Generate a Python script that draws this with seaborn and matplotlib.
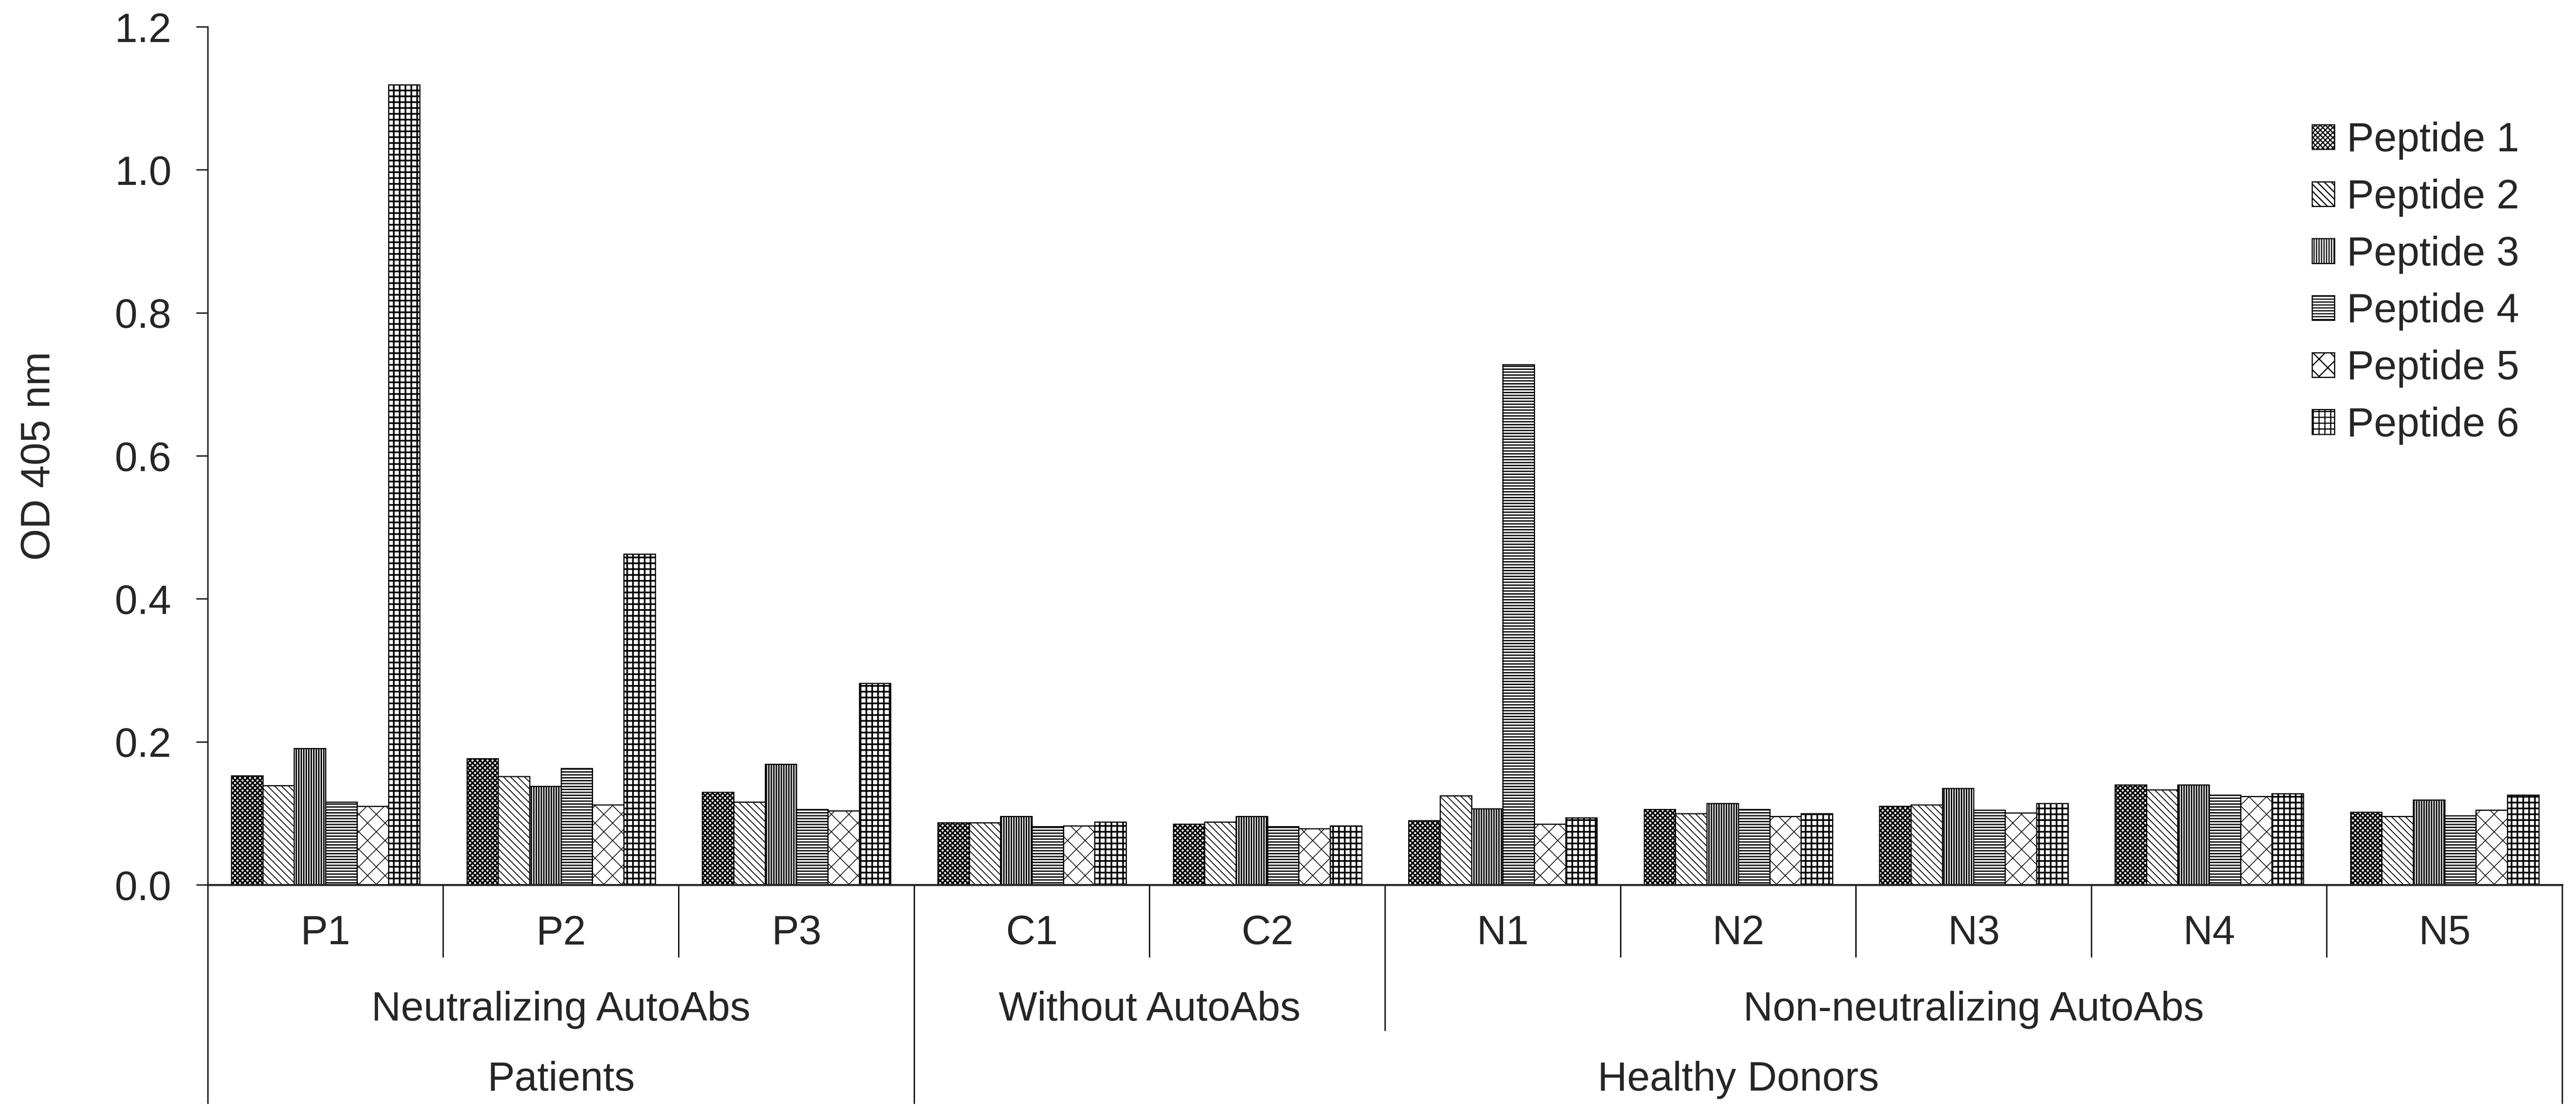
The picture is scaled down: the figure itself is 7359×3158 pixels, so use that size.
import pandas as pd
import matplotlib.pyplot as plt
import matplotlib.patches as mpatches
import seaborn as sns

# data (OD 405 nm)
samples = ["P1", "P2", "P3", "C1", "C2", "N1", "N2", "N3", "N4", "N5"]
peptides = ["Peptide 1", "Peptide 2", "Peptide 3", "Peptide 4", "Peptide 5", "Peptide 6"]
pep1 = [0.153, 0.177, 0.130, 0.087, 0.085, 0.090, 0.106, 0.110, 0.140, 0.102]
pep2 = [0.139, 0.152, 0.116, 0.087, 0.088, 0.125, 0.100, 0.112, 0.133, 0.096]
pep3 = [0.191, 0.138, 0.169, 0.096, 0.096, 0.107, 0.114, 0.135, 0.140, 0.119]
pep4 = [0.116, 0.163, 0.106, 0.082, 0.082, 0.728, 0.106, 0.105, 0.126, 0.097]
pep5 = [0.110, 0.112, 0.104, 0.083, 0.079, 0.085, 0.096, 0.101, 0.124, 0.105]
pep6 = [1.119, 0.463, 0.282, 0.088, 0.083, 0.094, 0.100, 0.114, 0.128, 0.126]

# category groups under the axis
level2 = [("Neutralizing AutoAbs", 3), ("Without AutoAbs", 2), ("Non-neutralizing AutoAbs", 5)]
level3 = [("Patients", 3), ("Healthy Donors", 7)]

# hatch pattern and hatch line width for each peptide
hatches = ["xxxxxxx", "\\\\\\\\\\", "|||||||", "------", "xx", "+++"]
hatch_lw = [1.1, 0.6, 1.0, 0.9, 0.5, 1.15]

rows = []
for name, vals in zip(peptides, [pep1, pep2, pep3, pep4, pep5, pep6]):
    for s, v in zip(samples, vals):
        rows.append({"sample": s, "peptide": name, "od": v})
df = pd.DataFrame(rows)

sns.set_style("white")
plt.rcParams["font.family"] = ["Liberation Sans", "DejaVu Sans"]
plt.rcParams["hatch.linewidth"] = 0.8
plt.rcParams["hatch.color"] = "black"

fs = 28
fig = plt.figure(figsize=(7359 / 300, 3158 / 300), dpi=300)
ax = fig.add_axes([0.0807, 0.1998, 0.9140, 0.7758])

sns.barplot(data=df, x="sample", y="od", hue="peptide", order=samples,
            hue_order=peptides, palette=["white"] * 6, width=0.8, gap=0,
            edgecolor="black", linewidth=0.8, legend=False, ax=ax)


def style_patch(p, h, hl):
    p.set_hatch(h)
    if hasattr(p, "set_hatch_linewidth"):
        p.set_hatch_linewidth(hl)


for cont, h, hl in zip(ax.containers, hatches, hatch_lw):
    for bar in cont:
        style_patch(bar, h, hl)

ax.set_xlim(-0.5, len(samples) - 0.5)
ax.set_ylim(0, 1.2)
ax.set_yticks([0.0, 0.2, 0.4, 0.6, 0.8, 1.0, 1.2])
ax.set_yticklabels([f"{t:.1f}" for t in ax.get_yticks()], fontsize=fs)
ax.tick_params(axis="y", direction="out", length=8, width=1.0, pad=17, left=True)
ax.tick_params(axis="x", bottom=False, labelbottom=False)
ax.set_xlabel("")
ax.set_ylabel("OD 405 nm", fontsize=fs, va="center")
ax.yaxis.set_label_coords(-0.0717, 0.5)

sns.despine(ax=ax)
ax.spines["left"].set_linewidth(1.0)
ax.spines["bottom"].set_linewidth(1.4)

# multi-level category axis
tr = ax.get_xaxis_transform()
y1, y2, y3 = -0.0845, -0.170, -0.255
lab1, lab2, lab3 = -0.0567, -0.1453, -0.2273
lw = 0.9

for i, s in enumerate(samples):
    ax.text(i, lab1, s, transform=tr, ha="center", va="center", fontsize=fs)

ends = {}
for i in range(len(samples) + 1):
    ends[i] = y1
pos = 0
for name, n in level2:
    ax.text(pos + n / 2 - 0.5, lab2, name, transform=tr, ha="center", va="center", fontsize=fs)
    ends[pos] = min(ends[pos], y2)
    ends[pos + n] = min(ends[pos + n], y2)
    pos += n
pos = 0
for name, n in level3:
    ax.text(pos + n / 2 - 0.5, lab3, name, transform=tr, ha="center", va="center", fontsize=fs)
    ends[pos] = y3
    ends[pos + n] = y3
    pos += n

for i, yend in ends.items():
    ax.plot([i - 0.5, i - 0.5], [0, yend], transform=tr, color="black",
            lw=lw, clip_on=False, solid_capstyle="butt")

handles = []
for h, hl, p in zip(hatches, hatch_lw, peptides):
    patch = mpatches.Patch(facecolor="white", edgecolor="black", linewidth=0.8, label=p)
    style_patch(patch, h, hl)
    handles.append(patch)
fig.legend(handles=handles, loc="upper left", bbox_to_anchor=(0.8975, 0.890),
           frameon=False, fontsize=fs, handlelength=0.55, handleheight=0.55,
           handletextpad=0.3, labelspacing=0.46, borderpad=0, borderaxespad=0)

fig.savefig("out.png", dpi=300, facecolor="white")
